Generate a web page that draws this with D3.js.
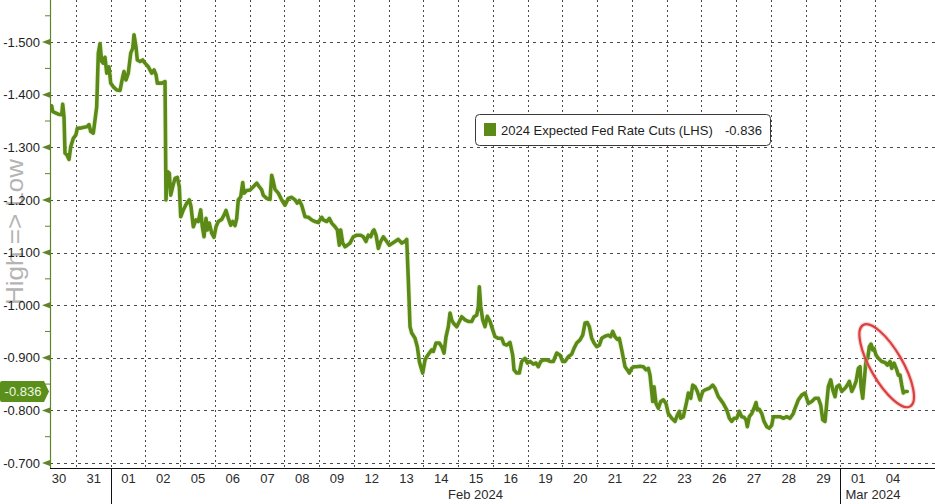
<!DOCTYPE html>
<html>
<head>
<meta charset="utf-8">
<script src="https://cdn.jsdelivr.net/npm/d3@7"></script>
<style>
  html, body { margin: 0; padding: 0; background: #ffffff; }
  svg { display: block; }
  text { font-family: "Liberation Sans", Arial, sans-serif; }
</style>
</head>
<body>
<svg id="chart" width="935" height="504"></svg>
<script>
// ---- Data ----
const dayLabels = ["30","31","01","02","05","06","07","08","09","12","13","14","15","16","19","20","21","22","23","26","27","28","29","01","04"];
const monthLabels = ["Feb 2024", "Mar 2024"];
const monthStartDay = [2, 23];
const yTicks = [-1.5, -1.4, -1.3, -1.2, -1.1, -1.0, -0.9, -0.8, -0.7];
const yMinorTicks = [-1.55, -1.45, -1.35, -1.25, -1.15, -1.05, -0.95, -0.85, -0.75];
const seriesName = "2024 Expected Fed Rate Cuts (LHS)";

// position in trading days since 30 Jan open (fractional)
const dayPos = [
0.302,0.331,0.492,0.590,0.619,0.656,0.685,0.734,0.800,0.849,0.924,1.001,1.039,1.165,1.309,1.376,1.424,1.499,1.548,1.597,
1.643,1.692,1.741,1.787,1.836,1.885,1.951,2.000,2.075,2.173,2.268,2.345,2.383,2.440,2.506,2.576,2.633,2.671,2.728,2.765,
2.843,2.921,2.987,3.082,3.180,3.246,3.304,3.341,3.468,3.563,3.591,3.629,3.686,3.727,3.784,3.850,3.917,3.974,4.014,4.089,
4.187,4.262,4.311,4.377,4.455,4.521,4.590,4.636,4.685,4.742,4.780,4.837,4.906,4.973,5.030,5.096,5.194,5.260,5.318,5.384,
5.453,5.511,5.577,5.626,5.672,5.741,5.799,5.836,5.914,6.009,6.104,6.201,6.276,6.345,6.391,6.489,6.584,6.633,6.679,6.728,
6.823,6.921,7.016,7.111,7.209,7.304,7.370,7.427,7.496,7.591,7.686,7.784,7.879,7.974,8.072,8.118,8.216,8.291,8.360,8.455,
8.521,8.579,8.619,8.676,8.743,8.809,8.886,8.981,9.079,9.194,9.269,9.347,9.413,9.482,9.540,9.577,9.635,9.701,9.770,9.845,
9.943,10.017,10.181,10.276,10.374,10.469,10.518,10.564,10.613,10.662,10.757,10.823,10.881,10.921,10.978,11.045,11.094,11.168,11.237,11.284,
11.361,11.456,11.525,11.592,11.649,11.715,11.764,11.813,11.859,11.957,12.032,12.101,12.196,12.291,12.389,12.455,12.532,12.578,12.607,12.648,
12.705,12.771,12.837,12.915,12.993,13.059,13.154,13.252,13.318,13.396,13.491,13.568,13.606,13.684,13.758,13.827,13.922,13.988,14.066,14.161,
14.239,14.305,14.374,14.449,14.547,14.642,14.737,14.835,14.930,15.007,15.073,15.168,15.266,15.332,15.410,15.505,15.583,15.649,15.715,15.773,
15.842,15.908,15.986,16.061,16.130,16.225,16.320,16.389,16.446,16.512,16.578,16.636,16.705,16.800,16.866,16.924,16.993,17.059,17.137,17.232,
17.327,17.404,17.471,17.519,17.597,17.635,17.692,17.758,17.827,17.902,17.980,18.046,18.144,18.239,18.305,18.363,18.403,18.478,18.576,18.622,
18.691,18.748,18.815,18.881,18.958,19.036,19.102,19.226,19.324,19.390,19.485,19.554,19.629,19.727,19.802,19.871,19.937,20.014,20.089,20.158,
20.224,20.282,20.319,20.377,20.446,20.512,20.570,20.607,20.665,20.734,20.800,20.878,20.953,21.022,21.068,21.166,21.261,21.356,21.453,21.548,
21.643,21.692,21.787,21.885,21.980,22.075,22.173,22.268,22.363,22.432,22.489,22.555,22.604,22.650,22.719,22.777,22.843,22.892,22.967,23.036,
23.131,23.197,23.255,23.324,23.390,23.448,23.514,23.563,23.591,23.640,23.686,23.735,23.784,23.830,23.879,23.928,23.965,24.023,24.089,24.187,
24.282,24.348,24.426,24.475,24.541,24.619,24.665,24.714,24.763,24.809,24.858,24.924
];
const cuts = [
-1.379,-1.368,-1.363,-1.362,-1.382,-1.358,-1.289,-1.286,-1.277,-1.301,-1.317,-1.324,-1.336,-1.337,-1.339,-1.343,-1.330,-1.327,-1.352,-1.377,
-1.479,-1.497,-1.463,-1.460,-1.471,-1.441,-1.453,-1.422,-1.415,-1.409,-1.408,-1.434,-1.444,-1.428,-1.441,-1.479,-1.488,-1.514,-1.491,-1.466,
-1.463,-1.466,-1.460,-1.453,-1.441,-1.447,-1.438,-1.422,-1.422,-1.425,-1.200,-1.254,-1.251,-1.209,-1.225,-1.241,-1.243,-1.225,-1.168,-1.181,
-1.194,-1.200,-1.187,-1.149,-1.162,-1.159,-1.181,-1.149,-1.130,-1.165,-1.143,-1.156,-1.137,-1.129,-1.149,-1.159,-1.163,-1.171,-1.180,-1.165,
-1.152,-1.159,-1.151,-1.165,-1.200,-1.206,-1.233,-1.213,-1.218,-1.219,-1.225,-1.232,-1.225,-1.219,-1.209,-1.203,-1.201,-1.247,-1.235,-1.220,
-1.213,-1.200,-1.190,-1.203,-1.205,-1.200,-1.194,-1.199,-1.190,-1.168,-1.167,-1.162,-1.159,-1.157,-1.167,-1.162,-1.159,-1.165,-1.156,-1.149,
-1.143,-1.114,-1.143,-1.118,-1.111,-1.114,-1.118,-1.130,-1.133,-1.133,-1.130,-1.121,-1.133,-1.130,-1.140,-1.143,-1.133,-1.108,-1.121,-1.130,
-1.121,-1.114,-1.121,-1.125,-1.118,-1.121,-1.125,-1.048,-0.959,-0.947,-0.937,-0.921,-0.893,-0.883,-0.871,-0.896,-0.902,-0.909,-0.915,-0.912,
-0.928,-0.928,-0.921,-0.909,-0.940,-0.959,-0.985,-0.972,-0.966,-0.959,-0.969,-0.978,-0.972,-0.969,-0.969,-0.978,-0.981,-0.997,-1.035,-0.997,
-0.972,-0.959,-0.979,-0.969,-0.953,-0.940,-0.937,-0.937,-0.926,-0.924,-0.929,-0.905,-0.877,-0.871,-0.871,-0.893,-0.899,-0.890,-0.893,-0.888,
-0.890,-0.883,-0.893,-0.896,-0.896,-0.893,-0.893,-0.909,-0.905,-0.893,-0.893,-0.902,-0.907,-0.918,-0.928,-0.934,-0.943,-0.966,-0.967,-0.959,
-0.937,-0.928,-0.921,-0.924,-0.937,-0.941,-0.943,-0.940,-0.950,-0.940,-0.935,-0.937,-0.915,-0.883,-0.877,-0.871,-0.880,-0.883,-0.883,-0.884,
-0.883,-0.877,-0.880,-0.867,-0.817,-0.845,-0.813,-0.804,-0.817,-0.820,-0.813,-0.794,-0.785,-0.779,-0.791,-0.798,-0.785,-0.788,-0.817,-0.833,
-0.823,-0.848,-0.845,-0.836,-0.820,-0.836,-0.839,-0.842,-0.848,-0.842,-0.826,-0.820,-0.813,-0.801,-0.785,-0.779,-0.785,-0.785,-0.798,-0.788,
-0.787,-0.782,-0.769,-0.788,-0.794,-0.804,-0.815,-0.801,-0.802,-0.794,-0.779,-0.769,-0.766,-0.772,-0.788,-0.788,-0.788,-0.785,-0.788,-0.785,
-0.794,-0.804,-0.820,-0.829,-0.833,-0.813,-0.817,-0.823,-0.823,-0.810,-0.782,-0.779,-0.813,-0.845,-0.858,-0.839,-0.826,-0.845,-0.848,-0.836,
-0.842,-0.848,-0.855,-0.836,-0.845,-0.855,-0.880,-0.883,-0.845,-0.823,-0.858,-0.896,-0.899,-0.921,-0.926,-0.915,-0.918,-0.905,-0.899,-0.893,
-0.891,-0.886,-0.893,-0.880,-0.890,-0.877,-0.867,-0.867,-0.848,-0.833,-0.836,-0.836
];

// ---- Layout ----
const W = 935, H = 504;
const plotLeft = 50, plotRight = 935, plotTop = 0, plotBottom = 468;
const lineColor = "#5b8a17";
const axisGreen = "#5f8526";

const svg = d3.select("#chart");

const x = d3.scaleLinear().domain([0.253, 25.72]).range([plotLeft, plotRight]);
const y = d3.scaleLinear().domain([-0.6905, -1.580]).range([plotBottom, plotTop]);

// clip
svg.append("defs").append("clipPath").attr("id", "plotclip")
  .append("rect").attr("x", plotLeft).attr("y", plotTop)
  .attr("width", plotRight - plotLeft).attr("height", plotBottom - plotTop);

// "High => Low" label
svg.append("text")
  .attr("transform", `translate(23, 232) rotate(-90)`)
  .attr("text-anchor", "middle")
  .attr("font-size", 24)
  .attr("fill", "#b4b4b4")
  .attr("textLength", 146)
  .attr("lengthAdjust", "spacingAndGlyphs")
  .text("High => Low");

// gridlines
const grid = svg.append("g").attr("clip-path", "url(#plotclip)");
grid.selectAll("line.h").data(yTicks).join("line")
  .attr("x1", plotLeft).attr("x2", plotRight)
  .attr("y1", d => Math.round(y(d)) + 0.5).attr("y2", d => Math.round(y(d)) + 0.5)
  .attr("stroke", "#4a4a4a").attr("stroke-width", 1).attr("stroke-dasharray", "3,4");

const dayBounds = d3.range(1, dayLabels.length);
grid.selectAll("line.v").data(dayBounds).join("line")
  .attr("x1", d => Math.round(x(d)) + 0.5).attr("x2", d => Math.round(x(d)) + 0.5)
  .attr("y1", plotTop).attr("y2", plotBottom)
  .attr("stroke", "#4a4a4a").attr("stroke-width", 1).attr("stroke-dasharray", "2,3");

// series line
const pts = dayPos.map((t, i) => [t, cuts[i]]);
const line = d3.line().x(d => x(d[0])).y(d => y(d[1]));
grid.append("path").datum(pts)
  .attr("d", line).attr("fill", "none")
  .attr("stroke", "#cfe3a8").attr("stroke-width", 5.5).attr("stroke-opacity", 0.35)
  .attr("stroke-linejoin", "round");
grid.append("path").datum(pts)
  .attr("d", line).attr("fill", "none")
  .attr("stroke", lineColor).attr("stroke-width", 3.6)
  .attr("stroke-linejoin", "round").attr("stroke-linecap", "round");

// red ellipse annotation (around latest segment)
const lastIdx = pts.length - 1;
const ex = x(24.33), ey = y(-0.885);
const ell = svg.append("g").attr("transform", `translate(${ex},${ey}) rotate(60)`);
ell.append("ellipse").attr("rx", 47).attr("ry", 16)
  .attr("fill", "none").attr("stroke", "#f0a0a0").attr("stroke-width", 4.5).attr("stroke-opacity", 0.45);
ell.append("ellipse").attr("rx", 47).attr("ry", 16)
  .attr("fill", "none").attr("stroke", "#d9403f").attr("stroke-width", 2.2);

// Y axis
const yAxis = d3.axisLeft(y).tickValues(yTicks).tickSize(0).tickPadding(10)
  .tickFormat(d => d.toFixed(3));
const gy = svg.append("g").attr("transform", `translate(${plotLeft},0)`).call(yAxis);
gy.select(".domain").remove();
gy.selectAll("text").attr("font-size", 13).attr("fill", "#1e1e1e")
  .attr("font-family", "Liberation Sans, Arial, sans-serif").attr("dx", "0");
svg.append("line").attr("x1", plotLeft + 0.5).attr("x2", plotLeft + 0.5)
  .attr("y1", plotTop).attr("y2", plotBottom)
  .attr("stroke", axisGreen).attr("stroke-width", 1.2);
// tick triangles
svg.selectAll("path.ytri").data(yTicks).join("path")
  .attr("d", d => { const yy = y(d); return `M${plotLeft},${yy-3}L${plotLeft-8},${yy}L${plotLeft},${yy+3}Z`; })
  .attr("fill", axisGreen);
svg.selectAll("line.ymin").data(yMinorTicks).join("line")
  .attr("x1", plotLeft - 5).attr("x2", plotLeft)
  .attr("y1", d => y(d)).attr("y2", d => y(d))
  .attr("stroke", axisGreen).attr("stroke-width", 1);

// X axis
svg.append("line").attr("x1", plotLeft).attr("x2", plotRight)
  .attr("y1", plotBottom + 0.5).attr("y2", plotBottom + 0.5)
  .attr("stroke", "#111").attr("stroke-width", 1);
const xAxis = d3.axisBottom(x).tickValues(dayLabels.map((d, i) => i + 0.5))
  .tickSize(0).tickPadding(6).tickFormat((d, i) => dayLabels[i]);
const gx = svg.append("g").attr("transform", `translate(0,${plotBottom})`).call(xAxis);
gx.select(".domain").remove();
gx.selectAll("text").attr("font-size", 13).attr("fill", "#2a2a2a")
  .attr("font-family", "Liberation Sans, Arial, sans-serif");

// month separators & labels
svg.selectAll("line.msep").data(monthStartDay).join("line")
  .attr("x1", d => Math.round(x(d)) + 0.5).attr("x2", d => Math.round(x(d)) + 0.5)
  .attr("y1", plotBottom).attr("y2", H)
  .attr("stroke", "#111").attr("stroke-width", 1);
svg.append("text").attr("x", (x(monthStartDay[0]) + x(monthStartDay[1])) / 2).attr("y", 499)
  .attr("text-anchor", "middle").attr("font-size", 13).attr("fill", "#2a2a2a")
  .text(monthLabels[0]);
svg.append("text").attr("x", x(monthStartDay[1]) + 5).attr("y", 499)
  .attr("text-anchor", "start").attr("font-size", 13).attr("fill", "#2a2a2a")
  .text(monthLabels[1]);

// last value tag on axis
const lastVal = cuts[lastIdx];
const ty = y(lastVal);
svg.append("path")
  .attr("d", `M2,${ty-10.5}L44,${ty-10.5}L49,${ty}L44,${ty+10.5}L2,${ty+10.5}Q0,${ty+10.5} 0,${ty+8.5}L0,${ty-8.5}Q0,${ty-10.5} 2,${ty-10.5}Z`)
  .attr("fill", "#5a8f1c");
svg.append("text").attr("x", 23).attr("y", ty + 4.5)
  .attr("text-anchor", "middle").attr("font-size", 13).attr("fill", "#eef7e0")
  .text(lastVal.toFixed(3));

// legend
const lg = svg.append("g");
lg.append("rect").attr("x", 475.5).attr("y", 114.5).attr("width", 295).attr("height", 31)
  .attr("rx", 4).attr("fill", "#ffffff").attr("stroke", "#3a3a3a").attr("stroke-width", 1);
lg.append("rect").attr("x", 484).attr("y", 123).attr("width", 12).attr("height", 13)
  .attr("fill", lineColor);
lg.append("text").attr("x", 501).attr("y", 135).attr("font-size", 13).attr("fill", "#1e1e1e")
  .text(seriesName);
lg.append("text").attr("x", 725).attr("y", 135).attr("font-size", 13).attr("fill", "#1e1e1e")
  .text(lastVal.toFixed(3));
</script>
</body>
</html>
